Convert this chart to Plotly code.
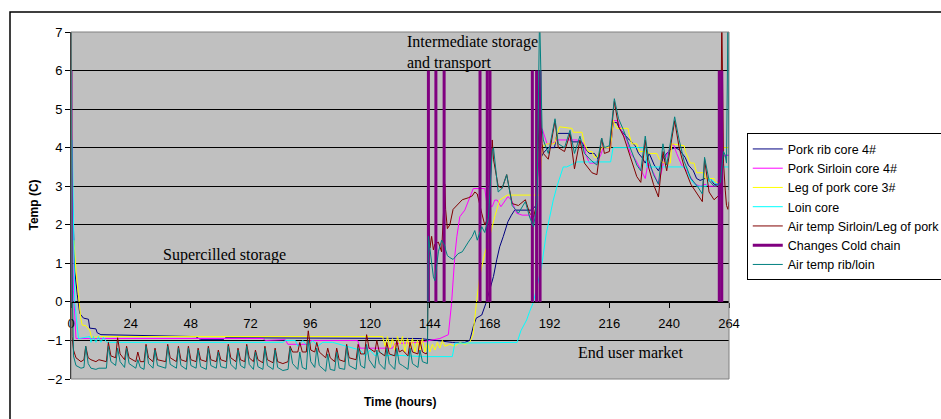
import plotly.graph_objects as go

# ---------------- data (hours, degrees C) ----------------
AIR_HOURS = [
    0, 0.4, 1.0, 2.0, 4.0, 5.2, 5.9, 6.9, 8.0, 10.0,
    11.2, 14.2, 15.0, 16.0, 17.9, 18.7, 19.7, 21.5, 22.3, 23.3,
    26.0, 26.8, 27.8, 29.3, 30.1, 31.1, 32.9, 33.7, 34.7, 38.0,
    38.8, 39.8, 42.3, 43.1, 44.1, 46.3, 47.1, 48.1, 50.2, 51.0,
    52.0, 54.3, 55.1, 56.1, 58.3, 59.1, 60.1, 62.3, 63.1, 64.1,
    66.2, 67.0, 68.0, 69.7, 70.5, 71.5, 73.2, 74.0, 75.0, 77.0,
    77.8, 78.8, 81.1, 81.9, 82.9, 85.0, 87.1, 87.9, 88.9, 91.0,
    91.8, 92.8, 94.4, 95.2, 96.2, 97.8, 98.6, 99.6, 102.2, 103.0,
    104.0, 105.8, 106.6, 107.6, 109.8, 110.6, 111.6, 114.4, 115.2, 116.2,
    117.8, 118.6, 119.6, 121.9, 122.7, 123.7, 125.9, 126.7, 127.7, 129.9,
    130.7, 131.7, 133.0, 135.2, 136.0, 137.0, 139.2, 140.0, 141.0, 142.5,
    143.0, 143.4, 144.0, 144.7, 145.4, 146.0, 147.4, 148.7, 150.0, 150.3,
    151.0, 152.0, 153.3, 155.3, 157.0, 159.4, 161.0, 162.0, 163.0, 164.8,
    166.0, 167.5, 169.0, 169.5, 171.4, 173.0, 174.8, 177.0, 179.5, 182.3,
    184.0, 185.6, 187.0, 188.0, 189.0, 189.5, 191.5, 194.2, 195.5, 198.0,
    200.2, 202.0, 204.2, 206.0, 209.0, 211.0, 212.9, 214.0, 216.0, 218.0,
    219.7, 221.7, 224.4, 227.0, 228.6, 230.4, 231.7, 233.7, 235.7, 237.5,
    239.0, 242.2, 244.0, 246.0, 248.7, 251.3, 253.3, 254.2, 256.0, 258.0,
    260.0, 260.6, 261.1, 261.8, 262.5, 263.0, 263.6, 264.0,
]

AIR_SIRLOIN_LEG = [
    7.5, -0.9, -1.25, -1.45, -1.55, -1.5, -1.15, -1.45, -1.5, -1.55,
    -1.5, -1.55, -1.05, -1.4, -1.45, -0.93, -1.35, -1.5, -1.15, -1.45,
    -1.55, -1.3, -1.55, -1.55, -1.1, -1.45, -1.55, -1.2, -1.5, -1.55,
    -1.1, -1.45, -1.55, -1.15, -1.5, -1.55, -1.15, -1.5, -1.55, -1.2,
    -1.5, -1.55, -1.15, -1.5, -1.55, -1.25, -1.5, -1.55, -1.1, -1.45,
    -1.55, -1.2, -1.5, -1.55, -1.1, -1.45, -1.55, -1.25, -1.5, -1.58,
    -1.15, -1.5, -1.58, -1.2, -1.55, -1.6, -1.55, -1.15, -1.3, -1.3,
    -1.05, -1.3, -1.3, -0.75, -1.25, -1.3, -1.05, -1.3, -1.45, -1.2,
    -1.45, -1.55, -1.2, -1.5, -1.55, -1.1, -1.45, -1.5, -1.1, -1.35,
    -1.35, -0.85, -1.2, -1.3, -1.0, -1.3, -1.4, -1.05, -1.35, -1.4,
    -1.0, -1.3, -1.25, -1.4, -1.05, -1.3, -1.35, -1.0, -1.3, -1.35,
    -1.3, 2.6, 1.4, 1.7, 1.35, 1.5, 1.55, 1.3, 3.05, 2.4,
    1.9, 2.0, 2.4, 2.55, 2.65, 2.7, 2.75, 2.85, 2.8, 2.3,
    2.0, 2.2, 4.2, 3.7, 3.0, 2.95, 3.3, 2.55, 2.5, 2.65,
    2.3, 2.2, 2.6, 5.5, 4.1, 3.85, 3.7, 4.7, 4.0, 3.9,
    4.35, 3.45, 4.2, 3.6, 3.35, 3.3, 4.25, 3.85, 3.9, 5.2,
    4.55, 4.3, 3.75, 3.25, 3.1, 4.2, 3.5, 3.05, 2.72, 3.9,
    3.4, 4.7, 4.0, 3.5, 3.05, 2.8, 2.6, 3.7, 2.85, 2.65,
    2.75, 2.8, 7.5, 3.6, 2.9, 2.5, 2.4, 2.6,
]

AIR_RIB_LOIN = [
    7.5, 1.0, -1.4, -1.65, -1.72, -1.7, -1.15, -1.6, -1.72, -1.75,
    -1.72, -1.72, -1.15, -1.55, -1.65, -1.2, -1.55, -1.7, -1.2, -1.6,
    -1.72, -1.5, -1.7, -1.75, -1.15, -1.6, -1.72, -1.25, -1.65, -1.72,
    -1.15, -1.62, -1.72, -1.2, -1.65, -1.75, -1.2, -1.65, -1.72, -1.25,
    -1.68, -1.75, -1.2, -1.65, -1.72, -1.3, -1.68, -1.72, -1.15, -1.62,
    -1.75, -1.25, -1.65, -1.72, -1.15, -1.62, -1.75, -1.3, -1.68, -1.75,
    -1.2, -1.65, -1.75, -1.25, -1.7, -1.78, -1.75, -1.2, -1.6, -1.75,
    -1.3, -1.7, -1.75, -1.0, -1.55, -1.7, -1.2, -1.65, -1.8, -1.35,
    -1.75, -1.78, -1.3, -1.72, -1.75, -1.15, -1.65, -1.75, -1.2, -1.65,
    -1.72, -1.1, -1.5, -1.72, -1.25, -1.6, -1.75, -1.2, -1.6, -1.75,
    -1.2, -1.6, -1.65, -1.75, -1.2, -1.6, -1.7, -1.25, -1.55, -1.6,
    -1.6, 1.7, 1.4, 1.1, 0.65, 0.55, 1.3, 1.6, 1.45, 1.35,
    1.2, 1.15, 1.1, 1.25, 1.3, 1.55, 1.7, 1.85, 1.6, 1.95,
    1.8, 2.2, 3.9, 4.0, 2.85, 2.95, 3.3, 2.5, 2.3, 2.6,
    2.2, 1.95, 2.6, 7.5, 4.5, 4.2, 3.85, 4.75, 4.1, 4.0,
    4.45, 3.85, 4.3, 3.85, 3.65, 3.55, 4.25, 4.0, 4.05, 5.27,
    4.75, 4.45, 4.0, 3.55, 3.4, 4.3, 3.7, 3.3, 3.05, 4.1,
    3.55, 4.8, 4.2, 3.65, 3.2, 3.0, 2.8, 3.75, 3.15, 3.0,
    3.05, 3.1, 3.5, 3.9, 3.8, 3.6, 7.5, 2.9,
]

RIB_HOURS = [
    0, 0.8, 1.5, 2.5, 3.5, 5, 7, 7.5, 10, 10.5,
    12, 50, 52, 61, 62, 140, 153, 158, 160, 161.4,
    162.6, 164.8, 166.5, 168, 169.5, 170.8, 172, 173.4, 175.3, 176.7,
    178, 183.4, 185, 186.5, 187.5, 189.5, 191.5, 194, 195, 200,
    201, 205, 206, 208, 210, 211.5, 212.6, 216.5, 217.5, 219,
    220, 222, 224, 226.4, 227.7, 229, 230.4, 232, 234, 235.7,
    237.7, 240.4, 242.4, 244, 246.4, 247.7, 249.7, 251, 252.4, 254.4,
    256.4, 258, 260, 261, 262, 264,
]
RIB_CORE = [
    4.0, 1.9, 0.8, 0.2, -0.3, -0.42, -0.45, -0.68, -0.7, -0.8,
    -0.85, -0.9, -0.98, -0.98, -0.93, -0.95, -1.05, -1.05, -1.0, -0.64,
    -0.42, -0.34, -0.03, 0.31, 0.66, 1.09, 1.43, 1.69, 2.08, 2.25,
    2.38, 2.38, 2.38, 2.5, 3.6, 3.86, 4.0, 4.0, 4.37, 4.37,
    4.15, 4.15, 4.0, 3.85, 3.85, 3.7, 4.0, 4.0, 4.65, 4.65,
    4.5, 4.35, 4.2, 4.05, 3.85, 3.75, 3.6, 3.85, 3.55, 3.4,
    3.75, 3.95, 4.0, 3.95, 3.75, 3.55, 3.4, 3.2, 3.15, 3.2,
    3.2, 3.05, 3.05, 3.5, 3.8, 3.8,
]

SIRLOIN_HOURS = [
    0, 1, 2, 77, 78, 86, 87, 95, 96, 115,
    116, 129, 130, 140, 148, 151.4, 152.7, 153.3, 154, 154.8,
    156, 158, 160, 161.4, 166, 166.8, 169, 170, 171, 172.5,
    175.3, 176.7, 178.8, 181, 184, 185, 186.5, 187.5, 189, 191,
    193, 195, 197, 203, 206, 206.4, 208, 210.5, 212.5, 213.5,
    216.5, 217.5, 219.4, 221, 223, 224.4, 226.4, 229, 230.4, 231.5,
    233.7, 235.7, 237.7, 240.4, 241.7, 243, 245, 247, 249, 250.4,
    252.4, 254.4, 256, 259, 260.5, 261.5, 264,
]
SIRLOIN_CORE = [
    5.5, 0.3, -0.95, -0.95, -1.0, -0.98, -1.1, -1.1, -1.0, -1.0,
    -1.2, -1.2, -1.08, -1.05, -0.95, -0.85, -0.03, 0.66, 1.2, 1.69,
    2.21, 2.38, 2.73, 2.94, 2.94, 2.56, 2.47, 2.64, 2.64, 2.47,
    2.73, 2.64, 2.3, 2.25, 2.25, 2.1, 2.3, 3.6, 4.5, 4.1,
    4.1, 4.2, 4.2, 4.2, 4.1, 3.85, 3.6, 3.6, 3.8, 4.0,
    4.0, 4.7, 4.7, 4.4, 4.2, 3.85, 3.7, 3.4, 3.2, 3.6,
    3.35, 3.05, 3.6, 4.0, 4.1, 3.85, 3.55, 3.4, 3.2, 3.05,
    3.0, 3.05, 3.0, 3.0, 3.3, 3.8, 3.8,
]

LEG_HOURS = [
    1.2, 2.0, 2.9, 3.9, 4.5, 6.0, 7.6, 8.2, 12, 125,
    126, 127, 128, 129, 130, 131, 132, 133, 134, 135,
    136, 137, 138, 139, 140, 141, 142, 143, 144, 145,
    146, 147, 148, 149, 150, 152, 154, 156, 158, 160,
    161.3, 162.2, 162.8, 164, 166, 168, 170, 172, 175, 188,
    189, 191, 194, 196, 201, 201.5, 205, 206, 207.5, 209,
    210, 211, 213, 216.5, 217.5, 219, 223.5, 224, 225, 227,
    228, 231, 232, 235, 236, 238, 240.5, 241, 246, 246.5,
    248.5, 250, 251, 254, 254.5, 258, 258.5, 260.5, 261.5, 264,
]
LEG_CORE = [
    1.6, 0.8, 0.23, -0.42, -0.6, -0.62, -0.75, -0.92, -0.9, -0.9,
    -1.15, -0.9, -1.2, -0.95, -1.25, -0.9, -1.1, -0.9, -1.3, -0.95,
    -1.2, -0.95, -1.3, -1.0, -1.25, -0.95, -1.3, -1.05, -1.3, -1.1,
    -1.25, -1.05, -1.2, -1.0, -1.15, -1.1, -1.15, -1.05, -1.1, -1.05,
    -0.85, -0.2, 0.05, 0.66, 1.26, 1.69, 2.21, 2.64, 2.77, 2.77,
    4.02, 4.1, 4.1, 4.54, 4.5, 4.4, 4.4, 4.1, 3.9, 3.9,
    3.75, 3.75, 4.0, 4.0, 4.71, 4.5, 4.5, 4.33, 4.1, 4.1,
    3.9, 3.9, 3.85, 3.85, 3.7, 3.6, 3.6, 4.1, 4.05, 3.9,
    3.6, 3.6, 3.35, 3.35, 3.2, 3.2, 3.1, 3.1, 4.0, 4.0,
]

LOIN_HOURS = [
    0.5, 1.5, 3, 7.6, 8, 9, 10, 11, 12, 13,
    14.4, 85, 86, 90, 91, 93, 95, 97, 99, 101,
    105, 116, 118, 120, 122, 124, 126, 129, 141, 153,
    154, 179, 180.5, 182.8, 184, 185.4, 187, 188.8, 190.7, 192,
    193.5, 195, 196.2, 197.5, 198.9, 203, 216.5, 217.5, 230.5, 231,
    247, 248, 249.5, 251, 255, 256, 260.5, 261.5, 264,
]
LOIN_CORE = [
    4.2, 0.0, -0.95, -0.9, -1.05, -0.9, -1.05, -0.9, -1.05, -0.92,
    -1.05, -1.05, -1.0, -1.0, -1.15, -1.0, -1.15, -1.0, -1.15, -1.05,
    -1.05, -1.25, -1.4, -1.25, -1.4, -1.3, -1.4, -1.38, -1.42, -1.42,
    -1.07, -1.05, -0.75, -0.47, -0.25, -0.03, 0.4, 0.92, 1.78, 2.2,
    2.64, 3.0, 3.25, 3.5, 3.5, 3.63, 3.63, 4.0, 4.0, 3.5,
    3.5, 3.25, 3.1, 3.0, 3.0, 3.2, 3.0, 3.5, 3.5,
]

COLD_CHAIN_CHANGES = [0, 143.4, 146.4, 149.7, 164.1, 167.0, 168.1, 185.1, 186.8, 188.2, 260.1, 261.1]
COLD_CHAIN_LEVELS = [0, 6]

X_TICKS = [0, 24, 48, 72, 96, 120, 144, 168, 192, 216, 240, 264]
Y_TICKS = [-2, -1, 0, 1, 2, 3, 4, 5, 6, 7]

for a, b in [(AIR_HOURS, AIR_SIRLOIN_LEG), (AIR_HOURS, AIR_RIB_LOIN), (RIB_HOURS, RIB_CORE),
             (SIRLOIN_HOURS, SIRLOIN_CORE), (LEG_HOURS, LEG_CORE), (LOIN_HOURS, LOIN_CORE)]:
    assert len(a) == len(b), (len(a), len(b))

# cold chain vertical markers
cc_x, cc_y = [], []
for h in COLD_CHAIN_CHANGES:
    cc_x += [h, h, None]
    cc_y += [COLD_CHAIN_LEVELS[0], COLD_CHAIN_LEVELS[1], None]

SANS = "Liberation Sans, Arial, sans-serif"
SERIF = "Liberation Serif, Times New Roman, serif"

fig = go.Figure()
fig.add_trace(go.Scatter(x=RIB_HOURS, y=RIB_CORE, mode="lines", name="Pork rib core 4#",
                         line=dict(color="#000080", width=1)))
fig.add_trace(go.Scatter(x=SIRLOIN_HOURS, y=SIRLOIN_CORE, mode="lines", name="Pork Sirloin core 4#",
                         line=dict(color="#FF00FF", width=1)))
fig.add_trace(go.Scatter(x=LEG_HOURS, y=LEG_CORE, mode="lines", name="Leg of pork core 3#",
                         line=dict(color="#FFFF00", width=1)))
fig.add_trace(go.Scatter(x=LOIN_HOURS, y=LOIN_CORE, mode="lines", name="Loin core",
                         line=dict(color="#00FFFF", width=1)))
fig.add_trace(go.Scatter(x=AIR_HOURS, y=AIR_SIRLOIN_LEG, mode="lines", name="Air temp Sirloin/Leg of pork",
                         line=dict(color="#800000", width=1)))
fig.add_trace(go.Scatter(x=cc_x, y=cc_y, mode="lines", name="Changes Cold chain",
                         line=dict(color="#800080", width=3), connectgaps=False))
fig.add_trace(go.Scatter(x=AIR_HOURS, y=AIR_RIB_LOIN, mode="lines", name="Air temp rib/loin",
                         line=dict(color="#008080", width=1)))

fig.update_layout(
    width=941, height=419,
    margin=dict(l=71, r=212, t=32, b=40, autoexpand=False),
    paper_bgcolor="white", plot_bgcolor="#C0C0C0",
    font=dict(family=SANS, size=13, color="black"),
    showlegend=True,
    legend=dict(x=1.027, y=0.708, xanchor="left", yanchor="top",
                bgcolor="white", bordercolor="black", borderwidth=1,
                font=dict(family=SANS, size=12.5, color="black"),
                itemwidth=30, tracegroupgap=0),
    xaxis=dict(range=[0, 264], tickmode="array", tickvals=X_TICKS, showgrid=False,
               zeroline=False, showline=True, linecolor="black", linewidth=1,
               ticks="outside", ticklen=5, tickcolor="black",
               anchor="free", position=2 / 9, automargin=False,
               ticklabelstandoff=5,
               tickfont=dict(family=SANS, size=13, color="black")),
    yaxis=dict(range=[-2, 7], tickmode="array", tickvals=Y_TICKS, showgrid=True,
               gridcolor="#000000", gridwidth=1, zeroline=False,
               showline=True, linecolor="black", linewidth=1,
               ticks="outside", ticklen=5, tickcolor="black", automargin=False,
               tickfont=dict(family=SANS, size=13, color="black")),
)

fig.add_shape(type="rect", xref="paper", yref="paper", x0=0, y0=0, x1=1, y1=1,
              line=dict(color="#808080", width=1), layer="above")
fig.add_shape(type="rect", xref="paper", yref="paper",
              x0=(10 - 71) / 658, x1=(945 - 71) / 658,
              y0=(379 - 425) / 347, y1=(379 - 12) / 347,
              line=dict(color="black", width=1.5), layer="below")

fig.add_annotation(x=134.0, y=1.004, xref="x", yref="paper", xanchor="left", yanchor="top",
                   text="Intermediate storage<br>and transport", align="left", showarrow=False,
                   font=dict(family=SERIF, size=16, color="black"))
fig.add_annotation(x=61.4, y=1.22, xref="x", yref="y", text="Supercilled storage", showarrow=False,
                   xanchor="center", yanchor="middle",
                   font=dict(family=SERIF, size=16, color="black"))
fig.add_annotation(x=224.5, y=-1.32, xref="x", yref="y", text="End user market", showarrow=False,
                   xanchor="center", yanchor="middle",
                   font=dict(family=SERIF, size=16, color="black"))
fig.add_annotation(x=0.5, y=(379 - 402) / 347, xref="paper", yref="paper", text="<b>Time (hours)</b>",
                   xanchor="center", yanchor="middle",
                   showarrow=False, font=dict(family=SANS, size=12, color="black"))
fig.add_annotation(x=(33 - 71) / 658, y=0.5, xref="paper", yref="paper", text="<b>Temp (C)</b>",
                   xanchor="center", yanchor="middle",
                   textangle=-90, showarrow=False, font=dict(family=SANS, size=12, color="black"))

fig.write_html("out.html")
